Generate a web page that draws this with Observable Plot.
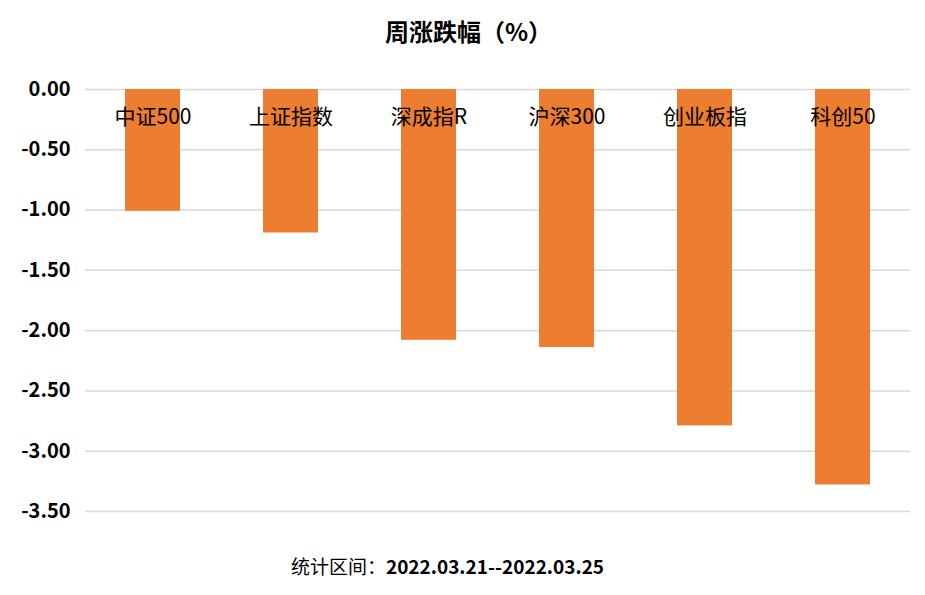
<!DOCTYPE html>
<html>
<head>
<meta charset="utf-8">
<script src="https://cdn.jsdelivr.net/npm/d3@7"></script>
<script src="https://cdn.jsdelivr.net/npm/@observablehq/plot@0.6"></script>
<style>
  body { margin: 0; background: #fff; font-family: "Noto Sans CJK SC", sans-serif; }
  #wrap { width: 925px; height: 595px; position: relative; }
  #title { height: 58px; line-height: 58px; text-align: center; font-size: 24px; font-weight: bold; color: #000; padding-left: 12px; padding-top: 2px; }
  #caption { position: absolute; top: 551px; left: 0; width: 895px; text-align: center; font-size: 19px; line-height: 30px; color: #000; }
  #caption b { font-weight: bold; }
</style>
</head>
<body>
<div id="wrap">
  <div id="title">周涨跌幅（%）</div>
  <div id="chart"></div>
  <div id="caption">统计区间：<b>2022.03.21--2022.03.25</b></div>
</div>
<script>
const categories = ["中证500", "上证指数", "深成指R", "沪深300", "创业板指", "科创50"];
const values = [-1.01, -1.19, -2.08, -2.14, -2.79, -3.28];
const yTicks = [0, -0.5, -1, -1.5, -2, -2.5, -3, -3.5];

const data = categories.map((c, i) => ({category: c, value: values[i]}));

const chart = Plot.plot({
  width: 925,
  height: 480,
  marginTop: 29,
  marginBottom: 29,
  marginLeft: 85,
  marginRight: 15,
  style: { fontFamily: '"Noto Sans CJK SC", sans-serif', background: "#fff", color: "#000" },
  x: { domain: categories, paddingInner: 0.6, paddingOuter: 0.28, axis: null },
  y: { domain: [-3.5, 0], ticks: yTicks, tickFormat: d => d.toFixed(2), tickSize: 0, tickPadding: 15, label: null },
  marks: [
    Plot.gridY(yTicks, { stroke: "#d9d9d9", strokeOpacity: 1, strokeWidth: 1.5 }),
    Plot.barY(data, { x: "category", y: "value", fill: "#ED7D31" }),
    Plot.axisY(yTicks, { tickFormat: d => d.toFixed(2), tickSize: 0, tickPadding: 15, fontSize: 20, fontWeight: "bold", label: null }),
    Plot.text(data, { x: "category", y: () => 0, text: "category", dy: 28, fontSize: 21, fill: "#000", lineAnchor: "middle" })
  ]
});
document.getElementById("chart").appendChild(chart);
</script>
</body>
</html>
